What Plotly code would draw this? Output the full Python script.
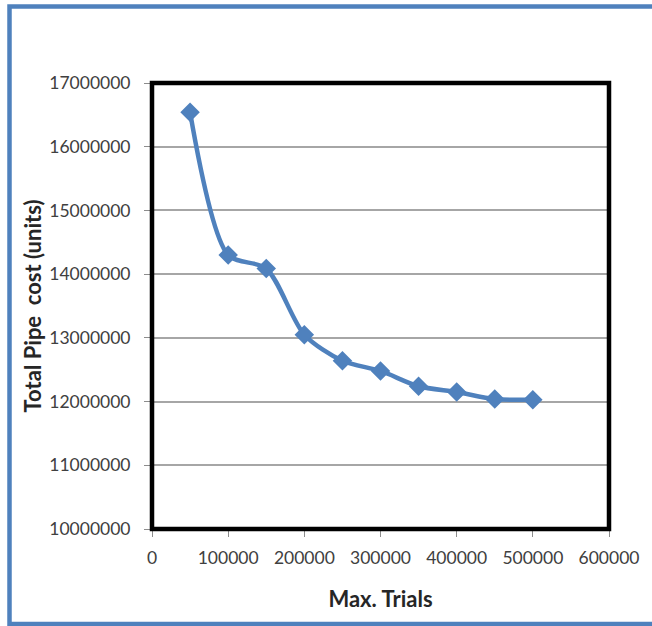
import plotly.graph_objects as go

max_trials = [50000, 100000, 150000, 200000, 250000, 300000, 350000, 400000, 450000, 500000]
pipe_cost = [16540000, 14300000, 14090000, 13050000, 12640000, 12480000, 12240000, 12150000, 12040000, 12030000]

x_ticks = [0, 100000, 200000, 300000, 400000, 500000, 600000]
y_ticks = [10000000, 11000000, 12000000, 13000000, 14000000, 15000000, 16000000, 17000000]

W, H = 652, 626
L, R, T, B = 152, 609, 83, 529  # plot area in pixels
pw, ph = R - L, B - T

def px_x(p):
    return (p - L) / pw

def px_y(p):
    return (B - p) / ph

blue = "#4F81BD"

fig = go.Figure()
fig.add_trace(go.Scatter(
    x=max_trials, y=pipe_cost, mode="lines+markers",
    line=dict(color=blue, width=4.5, shape="spline", smoothing=0.8),
    marker=dict(symbol="diamond", size=15, color=blue),
    showlegend=False, cliponaxis=False,
))

font_family = "Lato, 'Liberation Sans', Arial, sans-serif"

fig.update_layout(
    width=W, height=H,
    margin=dict(l=L, r=W - R, t=T, b=H - B),
    paper_bgcolor="white", plot_bgcolor="white",
    font=dict(family=font_family, color="#404040"),
    xaxis=dict(
        range=[0, 600000], tickvals=x_ticks, tickformat=".0f",
        showgrid=False, zeroline=False, showline=False,
        ticks="outside", ticklen=7, tickcolor="#8C8C8C", tickwidth=1,
        tickfont=dict(size=17.5, color="#404040"),
        ticklabelstandoff=6,
        title=dict(text="<b>Max. Trials</b>", font=dict(size=22, color="#262626"), standoff=24),
    ),
    yaxis=dict(
        range=[10000000, 17000000], tickvals=y_ticks, tickformat=".0f",
        showgrid=True, gridcolor="#A6A6A6", gridwidth=1.5,
        zeroline=False, showline=False,
        ticks="outside", ticklen=7, tickcolor="#8C8C8C", tickwidth=1,
        tickfont=dict(size=17.5, color="#404040"),
        ticklabelstandoff=10,
        title=dict(text="<b>Total Pipe\u00a0 cost (units)</b>", font=dict(size=22, color="#262626"), standoff=1),
    ),
    shapes=[
        dict(type="rect", xref="paper", yref="paper", x0=0, x1=1, y0=0, y1=1,
             line=dict(color="black", width=4.5), layer="above"),
        dict(type="rect", xref="paper", yref="paper",
             x0=px_x(9.5), x1=px_x(662), y0=px_y(624), y1=px_y(6.5),
             line=dict(color=blue, width=4.5), layer="above"),
    ],
)

fig.write_html(
    "out.html",
    config={"displayModeBar": False},
    post_script="document.body.style.margin='0';document.body.style.overflow='hidden';",
)
